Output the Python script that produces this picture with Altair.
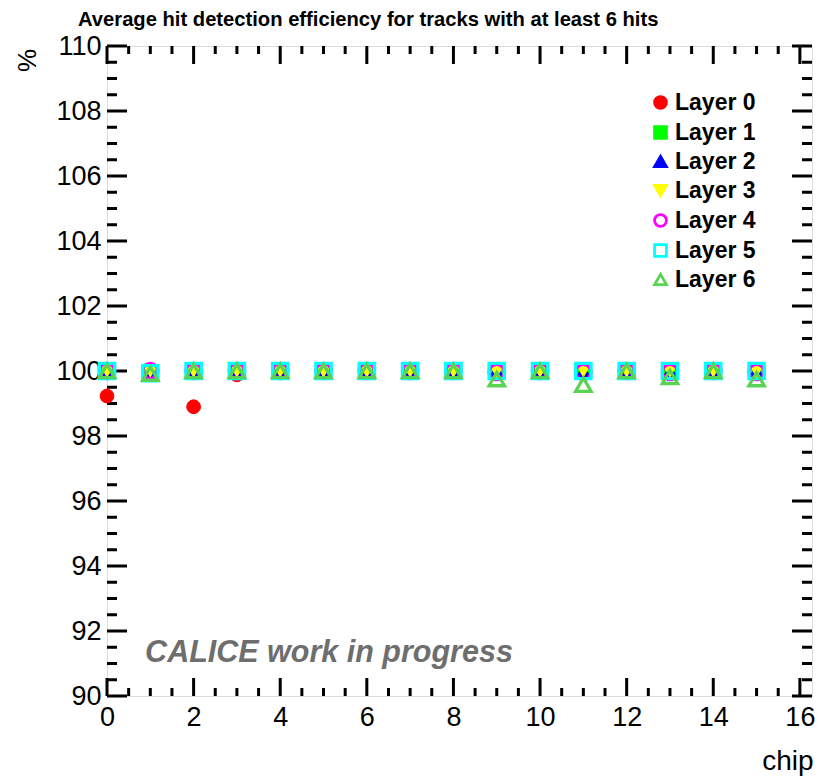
import altair as alt
import pandas as pd
import numpy as np

# ---------------- data ----------------
chips = list(range(16))
layer_names = ["Layer 0", "Layer 1", "Layer 2", "Layer 3", "Layer 4", "Layer 5", "Layer 6"]
layer0 = [99.23, 100.0, 98.90, 99.88, 100.0, 100.0, 100.0, 100.0, 100.0, 100.0, 100.0, 100.0, 100.0, 100.0, 100.0, 100.0]
layer1 = [100.0, 100.0, 100.0, 100.0, 100.0, 100.0, 100.0, 100.0, 100.0, 100.0, 100.0, 100.0, 100.0, 100.0, 100.0, 100.0]
layer2 = [100.0, 100.0, 100.0, 100.0, 100.0, 100.0, 100.0, 100.0, 100.0, 100.0, 100.0, 100.0, 100.0, 100.0, 100.0, 100.0]
layer3 = [100.0, 100.0, 100.0, 100.0, 100.0, 100.0, 100.0, 100.0, 100.0, 100.0, 100.0, 100.0, 100.0, 100.0, 100.0, 100.0]
layer4 = [100.0, 100.0, 100.0, 100.0, 100.0, 100.0, 100.0, 100.0, 100.0, 99.97, 100.0, 99.97, 100.0, 99.97, 100.0, 99.97]
layer5 = [100.0, 99.93, 100.0, 100.0, 100.0, 100.0, 100.0, 100.0, 100.0, 100.0, 100.0, 100.0, 100.0, 100.0, 100.0, 100.0]
layer6 = [100.0, 99.92, 100.0, 100.0, 100.0, 100.0, 100.0, 100.0, 100.0, 99.75, 100.0, 99.58, 100.0, 99.82, 100.0, 99.75]

layer_values = [layer0, layer1, layer2, layer3, layer4, layer5, layer6]
shapes = ["circle", "square", "triangle-up", "triangle-down", "circle", "square", "triangle-up"]
stroke_colors = ["#ff0000", "#00ff00", "#0000ff", "#ffff00", "#ff00ff", "#00ffff", "#59d354"]
fill_colors = ["#ff0000", "#00ff00", "#0000ff", "#ffff00", "transparent", "transparent", "transparent"]
open_layers = ["Layer 4", "Layer 5", "Layer 6"]

title_text = "Average hit detection efficiency for tracks with at least 6 hits"
note_text = ["CALICE work in progress"]
note_x = [0.88]
note_y = [91.05]

x_major = [0, 2, 4, 6, 8, 10, 12, 14, 16]
x_minor = [v for v in np.arange(0.5, 16.2, 0.5) if v % 2 != 0]
y_major = [90, 92, 94, 96, 98, 100, 102, 104, 106, 108, 110]
y_minor = [v for v in np.arange(90.5, 110, 0.5) if v % 2 != 0]

rows = []
for name, vals in zip(layer_names, layer_values):
    for c, v in zip(chips, vals):
        rows.append({"chip": c, "pct": v, "layer": name})
df = pd.DataFrame(rows)
df_filled = df[~df["layer"].isin(open_layers)]
df_open = df[df["layer"].isin(open_layers)]

# ---------------- layout ----------------
W, H = 705, 650
FONT = "Liberation Sans"

xscale = alt.Scale(domain=[0, 16.28], nice=False, zero=False)
yscale = alt.Scale(domain=[90, 110], nice=False, zero=False)

x_axis = alt.Axis(values=x_major, ticks=False, domain=False, grid=False,
                  labelFontSize=27, labelFont=FONT, labelColor="black",
                  labelPadding=8, labelFlush=False, labelOverlap=False,
                  title="chip", titleFont=FONT, titleFontSize=28, titleFontWeight="normal",
                  titleColor="black", titleAlign="right", titleAnchor="end",
                  titleX=W + 1, titleY=73, titleBaseline="alphabetic")
y_axis = alt.Axis(values=y_major, ticks=False, domain=False, grid=False,
                  labelFontSize=27, labelFont=FONT, labelColor="black",
                  labelPadding=6, labelFlush=False, labelOverlap=False,
                  title="%", titleFont=FONT, titleFontSize=26, titleFontWeight="normal",
                  titleColor="black", titleAngle=270, titleAlign="center",
                  titleBaseline="middle", titleX=-80, titleY=14)


def xenc(field):
    return alt.X(f"{field}:Q", scale=xscale, axis=x_axis)


def yenc(field):
    return alt.Y(f"{field}:Q", scale=yscale, axis=y_axis)


dxmaj = pd.DataFrame({"chip": x_major})
dxmin = pd.DataFrame({"chip": x_minor})
dymaj = pd.DataFrame({"pct": y_major})
dymin = pd.DataFrame({"pct": y_minor})

tick_style = dict(color="black", strokeWidth=3)

ticks = [
    alt.Chart(dxmaj).mark_rule(**tick_style).encode(x=xenc("chip"), y=alt.value(H), y2=alt.value(H - 18)),
    alt.Chart(dxmin).mark_rule(**tick_style).encode(x=xenc("chip"), y=alt.value(H), y2=alt.value(H - 8)),
    alt.Chart(dxmaj).mark_rule(**tick_style).encode(x=xenc("chip"), y=alt.value(0), y2=alt.value(18)),
    alt.Chart(dxmin).mark_rule(**tick_style).encode(x=xenc("chip"), y=alt.value(0), y2=alt.value(8)),
    alt.Chart(dymaj).mark_rule(**tick_style).encode(y=yenc("pct"), x=alt.value(0), x2=alt.value(20)),
    alt.Chart(dymin).mark_rule(**tick_style).encode(y=yenc("pct"), x=alt.value(0), x2=alt.value(10)),
    alt.Chart(dymaj).mark_rule(**tick_style).encode(y=yenc("pct"), x=alt.value(W), x2=alt.value(W - 20)),
    alt.Chart(dymin).mark_rule(**tick_style).encode(y=yenc("pct"), x=alt.value(W), x2=alt.value(W - 10)),
]

legend = alt.Legend(title=None, orient="none", legendX=542, legendY=45,
                    labelFont=FONT, labelFontSize=23, labelFontWeight="bold",
                    labelColor="black", symbolSize=140, symbolStrokeWidth=2.8,
                    rowPadding=5, labelOffset=3)

enc_common = dict(
    x=xenc("chip"),
    y=yenc("pct"),
    shape=alt.Shape("layer:N", scale=alt.Scale(domain=layer_names, range=shapes), legend=legend),
    stroke=alt.Stroke("layer:N", scale=alt.Scale(domain=layer_names, range=stroke_colors), legend=legend),
    fill=alt.Fill("layer:N", scale=alt.Scale(domain=layer_names, range=fill_colors), legend=legend),
)

points_filled = alt.Chart(df_filled).mark_point(size=190, strokeWidth=1, opacity=1).encode(**enc_common)
points_open = alt.Chart(df_open).mark_point(size=235, strokeWidth=3.3, opacity=1).encode(**enc_common)

note = alt.Chart(pd.DataFrame({"chip": note_x, "pct": note_y, "t": note_text})).mark_text(
    align="left", baseline="alphabetic", font=FONT, fontSize=30.5, fontWeight="bold",
    fontStyle="italic", color="#6e6e6e"
).encode(x=xenc("chip"), y=yenc("pct"), text="t:N")

title = alt.Chart(pd.DataFrame({"t": [title_text]})).mark_text(
    align="left", baseline="alphabetic", font=FONT, fontSize=20.2, fontWeight="bold", color="black"
).encode(x=alt.value(-29), y=alt.value(-20), text="t:N")

chart = alt.layer(*ticks, points_filled, points_open, note, title).properties(
    width=W, height=H,
    autosize=alt.AutoSizeParams(type="none"),
    padding={"left": 99, "top": 38, "right": 4, "bottom": 80},
).configure_view(stroke="black", strokeWidth=3).configure(background="white")

chart.save("out.html", embed_options={"renderer": "svg", "actions": False})
